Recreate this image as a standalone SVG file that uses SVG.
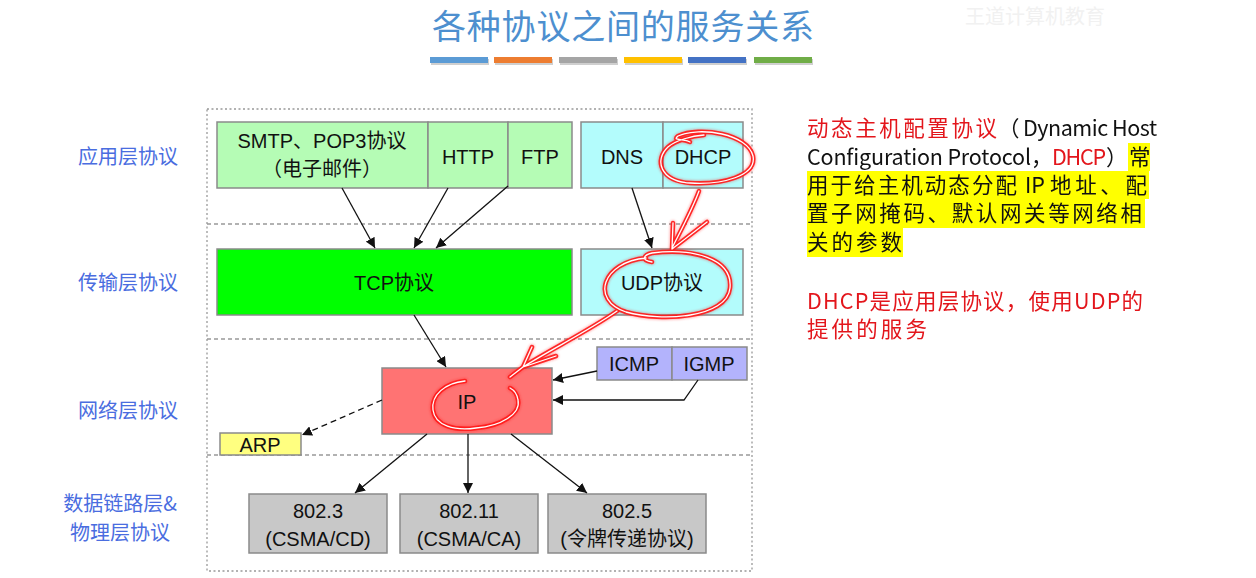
<svg xmlns="http://www.w3.org/2000/svg" width="1256" height="578" viewBox="0 0 1256 578">
<style>
.box{stroke:#8a8a8a;stroke-width:1.5}
.t{font-family:"Liberation Sans","Noto Sans CJK SC",sans-serif;font-size:20px;fill:#111;text-anchor:middle}
.lbl{font-family:"Noto Sans CJK SC",sans-serif;font-size:20px;fill:#4a6de0;text-anchor:middle}
.sep{stroke:#999;stroke-width:1.3;stroke-dasharray:4 3;fill:none}
.arr{stroke:#111;stroke-width:1.3;fill:none;marker-end:url(#ah)}
.rt{font-family:"Noto Sans CJK SC","Open Sans",sans-serif;font-size:21.5px;fill:#111}
.red{fill:#e3161c}
.hl{fill:#ffff00}
.hr{fill:none;stroke:#ff1a1a;stroke-width:4.5;stroke-linecap:round;stroke-linejoin:round;opacity:0.9}
.hw{fill:none;stroke:#fff;stroke-width:1.3;stroke-linecap:round;stroke-linejoin:round}
</style>
<defs>
<marker id="ah" viewBox="0 0 10 10" refX="10" refY="5" markerWidth="10" markerHeight="10" markerUnits="userSpaceOnUse" orient="auto">
<path d="M0,0 L10,5 L0,10 z" fill="#111"/>
</marker>
<filter id="glow" x="-20%" y="-20%" width="140%" height="140%">
<feGaussianBlur stdDeviation="1.5"/>
</filter>
</defs>
<rect width="1256" height="578" fill="#fff"/>
<!-- watermark -->
<text x="965" y="24" font-family="Noto Sans CJK SC,sans-serif" font-size="20" fill="#f1f1f1">王道计算机教育</text>
<!-- title -->
<g id="title">
<text x="623" y="39" font-family="Noto Sans CJK SC,sans-serif" font-size="34" fill="#4d8fcf" text-anchor="middle" textLength="382" lengthAdjust="spacing">各种协议之间的服务关系</text>
<g opacity="0.35" fill="#777"><rect x="431" y="59" width="58" height="6"/><rect x="495" y="59" width="58" height="6"/><rect x="560" y="59" width="58" height="6"/><rect x="625" y="59" width="58" height="6"/><rect x="689" y="59" width="58" height="6"/><rect x="755" y="59" width="58" height="6"/></g>
<rect x="430" y="57" width="58" height="6" fill="#5b9bd5"/>
<rect x="494" y="57" width="58" height="6" fill="#ed7d31"/>
<rect x="559" y="57" width="58" height="6" fill="#a5a5a5"/>
<rect x="624" y="57" width="58" height="6" fill="#ffc000"/>
<rect x="688" y="57" width="58" height="6" fill="#4472c4"/>
<rect x="754" y="57" width="58" height="6" fill="#70ad47"/>
</g>
<!-- frame -->
<g id="frame">
<rect x="207" y="109" width="545" height="462" fill="none" stroke="#999" stroke-width="1.3" stroke-dasharray="2 2.5"/>
<line class="sep" x1="207" y1="224" x2="752" y2="224"/>
<line class="sep" x1="207" y1="339" x2="752" y2="339"/>
<line class="sep" x1="207" y1="455" x2="752" y2="455"/>
</g>
<!-- layer labels -->
<g id="layer-labels">
<text class="lbl" x="128" y="164">应用层协议</text>
<text class="lbl" x="128" y="290">传输层协议</text>
<text class="lbl" x="128" y="418">网络层协议</text>
<text class="lbl" x="120" y="511">数据链路层&amp;</text>
<text class="lbl" x="120" y="540">物理层协议</text>
</g>
<!-- application layer -->
<g id="smtp"><rect class="box" x="217" y="122" width="211" height="66" fill="#b5fcb5"/><text class="t" x="322" y="148">SMTP、POP3协议</text><text class="t" x="322" y="176">（电子邮件）</text></g>
<g id="http"><rect class="box" x="428" y="122" width="80" height="66" fill="#b5fcb5"/><text class="t" x="468" y="164">HTTP</text></g>
<g id="ftp"><rect class="box" x="508" y="122" width="64" height="66" fill="#b5fcb5"/><text class="t" x="540" y="164">FTP</text></g>
<g id="dns"><rect class="box" x="581" y="122" width="82" height="66" fill="#b3fcfc"/><text class="t" x="622" y="164">DNS</text></g>
<g id="dhcp"><rect class="box" x="663" y="122" width="80" height="66" fill="#b3fcfc"/><text class="t" x="703" y="164">DHCP</text></g>
<!-- transport -->
<g id="tcp"><rect class="box" x="217" y="249" width="355" height="66" fill="#00ff00"/><text class="t" x="394" y="290">TCP协议</text></g>
<g id="udp"><rect class="box" x="581" y="249" width="162" height="66" fill="#b3fcfc"/><text class="t" x="662" y="290">UDP协议</text></g>
<!-- network -->
<g id="ip"><rect class="box" x="382" y="368" width="170" height="66" fill="#ff7373"/><text class="t" x="467" y="409">IP</text></g>
<g id="icmp"><rect class="box" x="597" y="347" width="75" height="33" fill="#b3b3fc"/><text class="t" x="634" y="371">ICMP</text></g>
<g id="igmp"><rect class="box" x="672" y="347" width="75" height="33" fill="#b3b3fc"/><text class="t" x="709" y="371">IGMP</text></g>
<g id="arp"><rect class="box" x="220" y="433" width="81" height="22" fill="#ffff80"/><text class="t" x="260" y="452">ARP</text></g>
<!-- physical -->
<g id="e8023"><rect class="box" x="249" y="494" width="138" height="59" fill="#c8c8c8"/><text class="t" x="318" y="518">802.3</text><text class="t" x="318" y="546">(CSMA/CD)</text></g>
<g id="e80211"><rect class="box" x="400" y="494" width="138" height="59" fill="#c8c8c8"/><text class="t" x="469" y="518">802.11</text><text class="t" x="469" y="546">(CSMA/CA)</text></g>
<g id="e8025"><rect class="box" x="548" y="494" width="158" height="59" fill="#c8c8c8"/><text class="t" x="627" y="518">802.5</text><text class="t" x="627" y="546">(令牌传递协议)</text></g>
<!-- connectors -->
<g id="connectors">
<line class="arr" x1="342" y1="188" x2="375" y2="248"/>
<line class="arr" x1="448" y1="188" x2="414" y2="248"/>
<line class="arr" x1="508" y1="186" x2="436" y2="248"/>
<line class="arr" x1="632" y1="188" x2="652" y2="248"/>
<line class="arr" x1="414" y1="315" x2="446" y2="367"/>
<line class="arr" x1="597" y1="371" x2="553" y2="380"/>
<polyline class="arr" points="698,380 684,400 553,400"/>
<line class="arr" x1="382" y1="400" x2="302" y2="435" stroke-dasharray="6 4"/>
<line class="arr" x1="427" y1="434" x2="355" y2="493"/>
<line class="arr" x1="468" y1="434" x2="468" y2="493"/>
<line class="arr" x1="511" y1="434" x2="587" y2="493"/>
</g>
<!-- hand-drawn annotations -->
<g id="annotations">
<defs>
<path id="h1" d="M690,142 C682,138 672,141 678,136 C700,126 748,134 753,156 C757,176 722,185 690,183 C660,181 654,160 668,147 C676,140 692,136 704,135"/>
<path id="h2" d="M699,191 C692,210 681,230 672,248 M673,223 L672,249 L707,222"/>
<path id="h3" d="M646,258 C602,262 590,300 626,312 C662,322 727,318 730,288 C733,258 692,248 652,253 C644,255 640,260 652,262"/>
<path id="h4" d="M617,311 C590,330 550,350 523,367 L510,377 M532,347 L523,367 L556,356"/>
<path id="h5" d="M465,381 C445,383 431,395 433,410 C435,426 455,431 476,428 C501,426 521,414 518,400 C517,393 514,390 510,388"/>
</defs>
<g filter="url(#glow)" opacity="0.6"><use href="#h1" class="hr"/><use href="#h2" class="hr"/><use href="#h3" class="hr"/><use href="#h4" class="hr"/><use href="#h5" class="hr"/></g>
<use href="#h1" class="hr"/><use href="#h2" class="hr"/><use href="#h3" class="hr"/><use href="#h4" class="hr"/><use href="#h5" class="hr"/>
<use href="#h1" class="hw"/><use href="#h2" class="hw"/><use href="#h3" class="hw"/><use href="#h4" class="hw"/><use href="#h5" class="hw"/>
</g>
<!-- right notes -->
<g id="notes">
<rect class="hl" x="1128" y="143" width="22" height="28"/>
<rect class="hl" x="807" y="171" width="342" height="28"/>
<rect class="hl" x="807" y="199" width="338" height="29"/>
<rect class="hl" x="807" y="228" width="96" height="29"/>
<text class="rt"><tspan class="red" x="807" y="136" textLength="190" lengthAdjust="spacing">动态主机配置协议</tspan><tspan x="998" y="136">（</tspan><tspan x="1023" y="136" textLength="134" lengthAdjust="spacing">Dynamic Host</tspan></text>
<text class="rt"><tspan x="807" y="165" textLength="224" lengthAdjust="spacing">Configuration Protocol</tspan><tspan x="1031" y="165">，</tspan><tspan class="red" x="1052" y="165" textLength="54" lengthAdjust="spacing">DHCP</tspan><tspan x="1106" y="165">）</tspan><tspan x="1129" y="165">常</tspan></text>
<text class="rt"><tspan x="807" y="193" textLength="210" lengthAdjust="spacing">用于给主机动态分配</tspan><tspan x="1025" y="193">IP</tspan><tspan x="1050" y="193" textLength="97" lengthAdjust="spacing">地址、配</tspan></text>
<text class="rt" x="807" y="221" textLength="335" lengthAdjust="spacing">置子网掩码、默认网关等网络相</text>
<text class="rt" x="807" y="250" textLength="95" lengthAdjust="spacing">关的参数</text>
<text class="rt red" x="807" y="309" textLength="336" lengthAdjust="spacing">DHCP是应用层协议，使用UDP的</text>
<text class="rt red" x="807" y="337" textLength="120" lengthAdjust="spacing">提供的服务</text>
</g>
</svg>
